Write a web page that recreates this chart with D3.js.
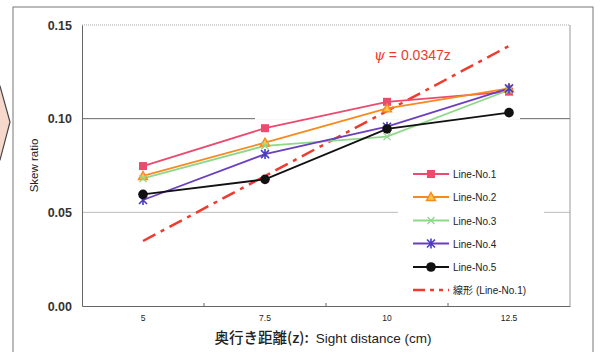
<!DOCTYPE html>
<html><head><meta charset="utf-8">
<script src="https://cdn.jsdelivr.net/npm/d3@7"></script>
<style>body{margin:0;background:#fff;} svg{display:block;}</style>
</head><body>
<script>
const categories = ["5", "7.5", "10", "12.5"];
const line1 = [0.0747, 0.0949, 0.1090, 0.1144];
const line2 = [0.0694, 0.0872, 0.1055, 0.1162];
const line3 = [0.0681, 0.0855, 0.0904, 0.1153];
const line4 = [0.0566, 0.0811, 0.0957, 0.1162];
const line5 = [0.0596, 0.0676, 0.0945, 0.1032];
const trendSlope = 0.0347;
const yTicks = [0.00, 0.05, 0.10, 0.15];
const seriesNames = ["Line-No.1", "Line-No.2", "Line-No.3", "Line-No.4", "Line-No.5"];
const trendName = "線形 (Line-No.1)";

const W = 603, H = 352;
const m = {l: 82, r: 33, t: 25, b: 46};
const svg = d3.select("body").append("svg").attr("width", W).attr("height", H);

// decorative page elements
svg.append("path").attr("d", "M-20,72 L0,86 L10,122 L0,160 L-20,175 Z")
  .attr("fill", "#f6d8cc").attr("stroke", "#444").attr("stroke-width", 1.2);
svg.append("rect").attr("x", 13).attr("y", 7).attr("width", 580).attr("height", 360)
  .attr("fill", "none").attr("stroke", "#777").attr("stroke-width", 1);

const x = d3.scaleBand().domain(categories).range([m.l, W - m.r]);
const xc = c => x(c) + x.bandwidth() / 2;
const y = d3.scaleLinear().domain([0, 0.15]).range([H - m.b, m.t]);

const fontLat = "'Liberation Sans', Arial, sans-serif";
const fontJp = "'Noto Sans CJK JP', sans-serif";

// gridlines
svg.append("line").attr("x1", m.l).attr("x2", W - m.r).attr("y1", y(0.15)).attr("y2", y(0.15))
  .attr("stroke", "#aaa").attr("stroke-dasharray", "1,1");
svg.append("line").attr("x1", m.l).attr("x2", W - m.r).attr("y1", y(0.10)).attr("y2", y(0.10))
  .attr("stroke", "#666");
svg.append("line").attr("x1", m.l).attr("x2", W - m.r).attr("y1", y(0.05)).attr("y2", y(0.05))
  .attr("stroke", "#bbb");
// masked portion of 0.10 gridline (as in reference)
svg.append("rect").attr("x", 255).attr("y", y(0.10) - 1).attr("width", 265).attr("height", 2).attr("fill", "#fff");
// right border
svg.append("line").attr("x1", W - m.r).attr("x2", W - m.r).attr("y1", m.t).attr("y2", H - m.b)
  .attr("stroke", "#999");

// axes
const yAxis = svg.append("g").attr("transform", `translate(${m.l},0)`)
  .call(d3.axisLeft(y).tickValues(yTicks).tickFormat(d3.format(".2f")).tickSize(0).tickPadding(10));
yAxis.select(".domain").attr("stroke", "#666");
yAxis.selectAll("text").attr("font-family", fontLat).attr("font-size", 12.5).attr("font-weight", 600).attr("fill", "#333");

const xAxis = svg.append("g").attr("transform", `translate(0,${H - m.b})`)
  .call(d3.axisBottom(x).tickSize(0).tickPadding(9));
xAxis.select(".domain").attr("stroke", "#666");
xAxis.selectAll("text").attr("font-family", fontLat).attr("font-size", 8.5).attr("fill", "#222");
// tick marks at category boundaries (inside)
svg.append("g").selectAll("line").data(categories.slice(1)).join("line")
  .attr("x1", d => x(d)).attr("x2", d => x(d))
  .attr("y1", H - m.b).attr("y2", H - m.b - 3).attr("stroke", "#666");

// axis titles
svg.append("text").attr("transform", `translate(38,${(m.t + H - m.b) / 2}) rotate(-90)`)
  .attr("text-anchor", "middle").attr("font-family", fontLat).attr("font-size", 11.5).attr("fill", "#222")
  .text("Skew ratio");
const xt = svg.append("text").attr("x", 323).attr("y", 343).attr("text-anchor", "middle")
  .attr("fill", "#222");
xt.append("tspan").attr("font-family", fontJp).attr("font-size", 14.5).attr("font-weight", 500).text("奥行き距離(z):");
xt.append("tspan").attr("font-family", fontLat).attr("font-size", 13.5).attr("dx", 7).text("Sight distance (cm)");

// trend line
const trendVals = categories.map((c, i) => trendSlope * (i + 1));
const lineGen = d3.line().x((d, i) => xc(categories[i])).y(d => y(d));
svg.append("path").datum(trendVals).attr("d", lineGen).attr("fill", "none")
  .attr("stroke", "#ee3b2e").attr("stroke-width", 2.5).attr("stroke-dasharray", "14,6,4,6");

// series
const series = [
  {name: seriesNames[0], vals: line1, color: "#ec4a6e", marker: "square"},
  {name: seriesNames[1], vals: line2, color: "#f7891e", marker: "triangle"},
  {name: seriesNames[2], vals: line3, color: "#8fd88a", marker: "x"},
  {name: seriesNames[3], vals: line4, color: "#6a3fc0", marker: "star"},
  {name: seriesNames[4], vals: line5, color: "#111", marker: "circle"}
];

function drawMarker(g, type, color) {
  if (type === "square") {
    g.append("rect").attr("x", -4).attr("y", -4).attr("width", 8).attr("height", 8).attr("fill", color);
  } else if (type === "triangle") {
    g.append("path").attr("d", "M0,-4.5 L4.5,3.5 L-4.5,3.5 Z").attr("fill", "#f9c64a").attr("stroke", color).attr("stroke-width", 1.4);
  } else if (type === "x") {
    g.append("path").attr("d", "M-3.5,-3.5 L3.5,3.5 M-3.5,3.5 L3.5,-3.5").attr("stroke", color).attr("stroke-width", 1.3);
  } else if (type === "star") {
    g.append("path").attr("d", "M-4,-4 L4,4 M-4,4 L4,-4 M0,-5 L0,5").attr("stroke", "#4a3cc0").attr("stroke-width", 1.6);
  } else if (type === "circle") {
    g.append("circle").attr("r", 4.8).attr("fill", color);
  }
}

series.forEach(s => {
  svg.append("path").datum(s.vals).attr("d", lineGen).attr("fill", "none")
    .attr("stroke", s.color).attr("stroke-width", 1.8);
});
series.forEach(s => {
  s.vals.forEach((v, i) => {
    const g = svg.append("g").attr("transform", `translate(${xc(categories[i])},${y(v)})`);
    drawMarker(g, s.marker, s.color);
  });
});

// annotation
svg.append("text").attr("x", 374).attr("y", 60).attr("font-family", fontLat).attr("font-size", 14)
  .attr("fill", "#ee3b2e")
  .call(t => {
    t.append("tspan").attr("font-family", "'DejaVu Serif', serif").attr("font-style", "italic").text("ψ");
    t.append("tspan").text(" = 0.0347z");
  });

// legend
const lg = svg.append("g");
lg.append("rect").attr("x", 398).attr("y", 163).attr("width", 146).attr("height", 138).attr("fill", "#fff");
const rowY = [174, 197, 220.5, 243.5, 267, 290];
series.forEach((s, i) => {
  const g = lg.append("g").attr("transform", `translate(0,${rowY[i]})`);
  g.append("line").attr("x1", 413).attr("x2", 449).attr("stroke", s.color).attr("stroke-width", 1.8);
  const mg = g.append("g").attr("transform", "translate(431,0)");
  drawMarker(mg, s.marker, s.color);
  g.append("text").attr("x", 453).attr("y", 4).attr("font-family", fontLat).attr("font-size", 10)
    .attr("fill", "#222").text(s.name);
});
{
  const g = lg.append("g").attr("transform", `translate(0,${rowY[5]})`);
  g.append("line").attr("x1", 413).attr("x2", 449).attr("stroke", "#ee3b2e").attr("stroke-width", 2.5)
    .attr("stroke-dasharray", "12,5,4,5,4,5");
  g.append("text").attr("x", 453).attr("y", 4).attr("font-size", 10).attr("fill", "#222")
    .call(t => {
      t.append("tspan").attr("font-family", fontJp).text("線形");
      t.append("tspan").attr("font-family", fontLat).attr("dx", 3).text("(Line-No.1)");
    });
}
</script>
</body></html>
